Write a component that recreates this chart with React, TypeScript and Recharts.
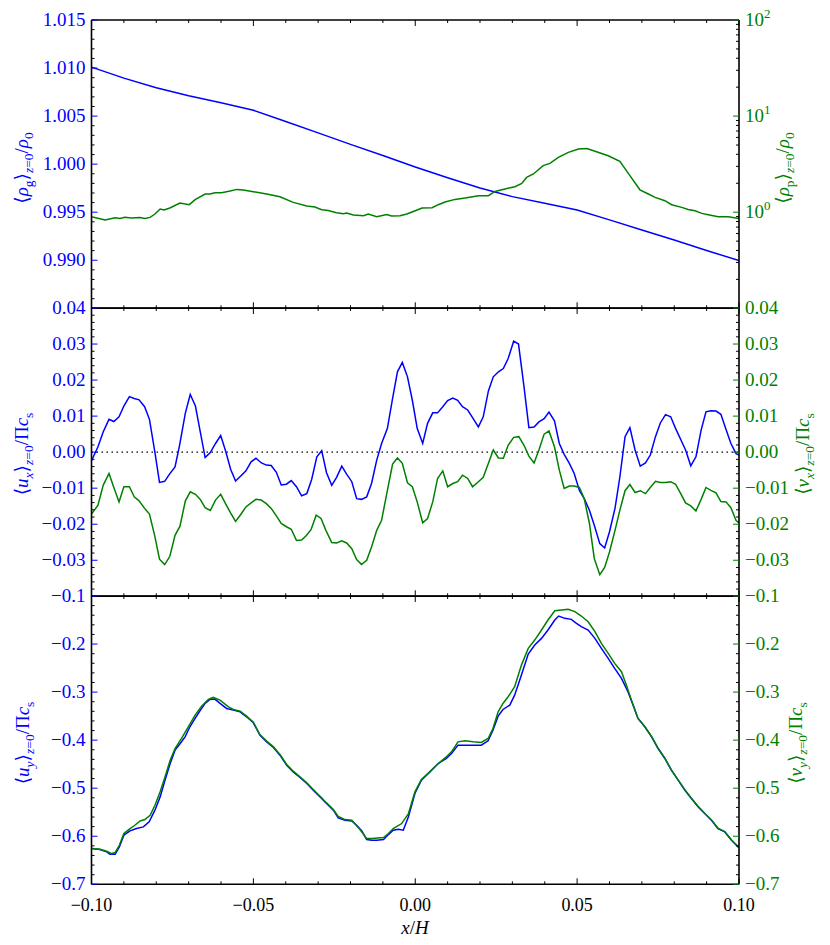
import { LineChart, Line, XAxis, YAxis, ReferenceLine } from 'recharts';

const BLUE = '#0000ff';
const GREEN = '#008000';
const FONT = '"Liberation Serif", "DejaVu Serif", serif';
const FS = 19;

// plot frames (page px)
const PLOT_H = 288.3;
const PANEL_TOPS = [19.5, 307.8, 596.1];

type Pt = [number, number];

// ---- tick labels ----
const xMajor = [-0.1, -0.05, 0, 0.05, 0.1];
const rhoGasMajor = [0.985, 0.99, 0.995, 1.0, 1.005, 1.01, 1.015];
const rhoParMajor = [0.1, 1, 10, 100];
const uxMajor = [-0.04, -0.03, -0.02, -0.01, 0, 0.01, 0.02, 0.03, 0.04];
const uyMajor = [-0.7, -0.6, -0.5, -0.4, -0.3, -0.2, -0.1];

// ---- top panel: gas density (left, linear) and particle density (right, log) ----
const rhoGas: Pt[] = [
  [-0.1, 1.0101], [-0.09, 1.00895], [-0.08, 1.00796], [-0.07, 1.00712], [-0.06, 1.00638],
  [-0.05, 1.00561], [-0.04, 1.00443], [-0.03, 1.00325], [-0.02, 1.00206], [-0.01, 1.0009],
  [0.0, 0.9997], [0.01, 0.99858], [0.02, 0.99752], [0.03, 0.99662], [0.04, 0.99592],
  [0.05, 0.99523], [0.06, 0.9942], [0.07, 0.99314], [0.08, 0.9921], [0.09, 0.99102],
  [0.1, 0.98996],
];

const rhoPar: Pt[] = [
  [-0.1, 0.897], [-0.0958, 0.83], [-0.0927, 0.877], [-0.0912, 0.862], [-0.0897, 0.884],
  [-0.0876, 0.87], [-0.085, 0.883], [-0.0835, 0.862], [-0.0819, 0.883], [-0.0804, 0.957],
  [-0.0788, 1.079], [-0.0776, 1.054], [-0.0758, 1.106], [-0.0727, 1.247], [-0.0698, 1.197],
  [-0.068, 1.349], [-0.0649, 1.546], [-0.0634, 1.546], [-0.0619, 1.596], [-0.0598, 1.596],
  [-0.0572, 1.663], [-0.0551, 1.727], [-0.0531, 1.7], [-0.05, 1.634], [-0.0459, 1.546],
  [-0.0418, 1.449], [-0.0377, 1.265], [-0.0335, 1.161], [-0.031, 1.133], [-0.0289, 1.062],
  [-0.0269, 1.04], [-0.0243, 0.988], [-0.0222, 0.965], [-0.0212, 0.981], [-0.0191, 0.935],
  [-0.016, 0.92], [-0.0145, 0.957], [-0.0119, 0.897], [-0.0088, 0.948], [-0.0073, 0.913],
  [-0.0047, 0.92], [-0.0026, 0.957], [0.0, 1.037], [0.0021, 1.106], [0.0052, 1.115],
  [0.0071, 1.197], [0.0092, 1.277], [0.0123, 1.359], [0.0154, 1.406], [0.0195, 1.486],
  [0.0226, 1.486], [0.0246, 1.645], [0.0277, 1.743], [0.0308, 1.841], [0.0329, 1.994],
  [0.0344, 2.3], [0.0365, 2.5], [0.0395, 3.05], [0.0416, 3.22], [0.0442, 3.72],
  [0.0473, 4.19], [0.0504, 4.55], [0.053, 4.61], [0.056, 4.26], [0.0596, 3.87],
  [0.0632, 3.38], [0.0663, 2.4], [0.0694, 1.71], [0.072, 1.546], [0.0741, 1.426],
  [0.0771, 1.318], [0.0792, 1.197], [0.0823, 1.122], [0.0843, 1.069], [0.0864, 1.037],
  [0.0885, 0.972], [0.0905, 0.941], [0.0936, 0.897], [0.0967, 0.897], [0.1, 0.862],
];

// ---- middle panel: u_x (gas, left) and v_x (particles, right) ----
const uxGas: Pt[] = [
  [-0.1, -0.0024], [-0.098, 0.0015], [-0.0964, 0.0056], [-0.0946, 0.0091], [-0.0931, 0.0085],
  [-0.0915, 0.0098], [-0.09, 0.0128], [-0.0883, 0.0154], [-0.0868, 0.0149], [-0.0853, 0.0145],
  [-0.0836, 0.0126], [-0.0821, 0.0091], [-0.0805, 0.0004], [-0.079, -0.0084], [-0.0774, -0.0081],
  [-0.0759, -0.0061], [-0.0742, -0.0041], [-0.0728, 0.0019], [-0.071, 0.0109], [-0.0695, 0.016],
  [-0.0679, 0.0128], [-0.0664, 0.0056], [-0.0649, -0.0015], [-0.0633, -0.0001], [-0.0617, 0.0024],
  [-0.0601, 0.0046], [-0.0586, 0.0004], [-0.057, -0.0048], [-0.0555, -0.008], [-0.0539, -0.0066],
  [-0.0523, -0.0052], [-0.0507, -0.0027], [-0.0492, -0.0017], [-0.0475, -0.003], [-0.046, -0.0036],
  [-0.0445, -0.0037], [-0.0429, -0.0056], [-0.0414, -0.0091], [-0.0398, -0.0089], [-0.0383, -0.0079],
  [-0.0367, -0.0096], [-0.0351, -0.0121], [-0.0335, -0.0115], [-0.032, -0.0076], [-0.0304, -0.0013],
  [-0.0289, 0.0004], [-0.0274, -0.0057], [-0.0258, -0.0092], [-0.0243, -0.007], [-0.0227, -0.0039],
  [-0.0212, -0.0061], [-0.0196, -0.0082], [-0.0181, -0.0129], [-0.0166, -0.0131], [-0.015, -0.0124],
  [-0.0135, -0.0087], [-0.0119, -0.0022], [-0.0104, 0.0024], [-0.0086, 0.0066], [-0.007, 0.0149],
  [-0.0055, 0.0223], [-0.004, 0.0249], [-0.0024, 0.0209], [-0.0009, 0.0144], [0.0006, 0.0066],
  [0.0023, 0.0024], [0.0038, 0.008], [0.0054, 0.0109], [0.0069, 0.0109], [0.0085, 0.0126],
  [0.01, 0.0143], [0.0116, 0.015], [0.0131, 0.0144], [0.0146, 0.0126], [0.0162, 0.0117],
  [0.0177, 0.0096], [0.0195, 0.007], [0.021, 0.0098], [0.0226, 0.017], [0.0241, 0.0209],
  [0.0257, 0.0223], [0.0272, 0.0232], [0.0287, 0.026], [0.0304, 0.0308], [0.0319, 0.03],
  [0.0336, 0.0181], [0.0351, 0.0068], [0.0367, 0.007], [0.0382, 0.0084], [0.0398, 0.0093],
  [0.0413, 0.0111], [0.043, 0.0087], [0.0445, 0.0024], [0.046, -0.0006], [0.0476, -0.0031],
  [0.0491, -0.0059], [0.0507, -0.0106], [0.0522, -0.0129], [0.0538, -0.0161], [0.0553, -0.0203],
  [0.057, -0.0254], [0.0585, -0.0266], [0.06, -0.0221], [0.0617, -0.0156], [0.0632, -0.0069],
  [0.0648, 0.0043], [0.0663, 0.0068], [0.0679, 0.0006], [0.0695, -0.0039], [0.0711, -0.003],
  [0.0726, -0.0008], [0.0742, 0.0043], [0.0757, 0.0081], [0.0773, 0.0104], [0.0789, 0.0098],
  [0.0804, 0.0066], [0.082, 0.0035], [0.0835, 0.0006], [0.0851, -0.0038], [0.0867, -0.0013],
  [0.0883, 0.0061], [0.0898, 0.0112], [0.0913, 0.0115], [0.0929, 0.0114], [0.0944, 0.0105],
  [0.096, 0.0063], [0.0975, 0.0024], [0.0991, -0.0004], [0.1, -0.0008],
];

const vxPar: Pt[] = [
  [-0.1, -0.0172], [-0.098, -0.0147], [-0.0964, -0.0092], [-0.0946, -0.0059], [-0.0931, -0.0098],
  [-0.0915, -0.0138], [-0.09, -0.0096], [-0.0883, -0.0096], [-0.0868, -0.0124], [-0.0853, -0.0135],
  [-0.0836, -0.0156], [-0.0821, -0.0172], [-0.0805, -0.0231], [-0.079, -0.0297], [-0.0774, -0.0312],
  [-0.0758, -0.0289], [-0.0742, -0.0231], [-0.0727, -0.0206], [-0.071, -0.0135], [-0.0695, -0.011],
  [-0.0679, -0.0117], [-0.0664, -0.0131], [-0.0649, -0.0154], [-0.0633, -0.0162], [-0.0617, -0.0133],
  [-0.0601, -0.0117], [-0.0586, -0.0143], [-0.057, -0.0169], [-0.0555, -0.0192], [-0.0539, -0.0173],
  [-0.0523, -0.0152], [-0.0507, -0.0141], [-0.0492, -0.0131], [-0.0476, -0.0133], [-0.046, -0.0143],
  [-0.0445, -0.0156], [-0.0429, -0.0177], [-0.0414, -0.0198], [-0.0398, -0.0207], [-0.0383, -0.0214],
  [-0.0367, -0.0245], [-0.0351, -0.0244], [-0.0337, -0.0232], [-0.0322, -0.0215], [-0.0306, -0.0175],
  [-0.0291, -0.0184], [-0.0276, -0.0217], [-0.0258, -0.0251], [-0.0243, -0.0252], [-0.0227, -0.0246],
  [-0.0212, -0.0252], [-0.0196, -0.0268], [-0.0181, -0.0298], [-0.0166, -0.0312], [-0.015, -0.03],
  [-0.0135, -0.0263], [-0.0119, -0.0217], [-0.0104, -0.0189], [-0.0086, -0.0106], [-0.007, -0.0033],
  [-0.0055, -0.0016], [-0.004, -0.0031], [-0.0024, -0.0085], [-0.0009, -0.0096], [0.0006, -0.0138],
  [0.0023, -0.0196], [0.0038, -0.0184], [0.0054, -0.0138], [0.0069, -0.0073], [0.0085, -0.0052],
  [0.01, -0.0096], [0.0116, -0.0087], [0.0131, -0.0082], [0.0146, -0.0064], [0.0162, -0.0073],
  [0.0177, -0.0096], [0.0195, -0.0082], [0.021, -0.007], [0.0226, -0.0031], [0.0241, 0.0006],
  [0.0257, -0.0016], [0.0272, -0.0017], [0.0287, 0.0019], [0.0304, 0.0041], [0.032, 0.0043],
  [0.0336, 0.0019], [0.0351, -0.0011], [0.0367, -0.003], [0.0382, 0.0006], [0.0398, 0.005],
  [0.0413, 0.0059], [0.043, 0.0015], [0.0445, -0.005], [0.046, -0.0101], [0.0476, -0.0094],
  [0.0491, -0.0094], [0.0507, -0.0098], [0.0522, -0.0129], [0.0538, -0.0198], [0.0553, -0.0295],
  [0.057, -0.034], [0.0585, -0.032], [0.06, -0.0277], [0.0617, -0.0217], [0.0632, -0.0161],
  [0.0648, -0.0107], [0.0663, -0.009], [0.0679, -0.0112], [0.0695, -0.0107], [0.0711, -0.0115],
  [0.0726, -0.0098], [0.0742, -0.0081], [0.0757, -0.0084], [0.0773, -0.0084], [0.0789, -0.0082],
  [0.0804, -0.0089], [0.082, -0.0115], [0.0835, -0.0141], [0.0851, -0.0149], [0.0867, -0.0163],
  [0.0883, -0.0131], [0.0898, -0.0098], [0.0913, -0.0106], [0.0929, -0.0113], [0.0944, -0.0137],
  [0.096, -0.0138], [0.0975, -0.0154], [0.0991, -0.019], [0.1, -0.0196],
];

// ---- bottom panel: u_y (gas, left) and v_y (particles, right) ----
const uyGas: Pt[] = [
  [-0.1, -0.6257], [-0.0974, -0.6278], [-0.0953, -0.6326], [-0.0943, -0.6375], [-0.0927, -0.6375],
  [-0.0914, -0.6222], [-0.09, -0.5979], [-0.0881, -0.5889], [-0.0861, -0.584], [-0.084, -0.5806],
  [-0.0822, -0.5701], [-0.0804, -0.5458], [-0.0788, -0.5181], [-0.0773, -0.4833], [-0.0757, -0.4486],
  [-0.0742, -0.4208], [-0.0726, -0.4069], [-0.0711, -0.3931], [-0.0696, -0.3722], [-0.068, -0.3549],
  [-0.0665, -0.3389], [-0.0649, -0.3236], [-0.0634, -0.3153], [-0.0619, -0.3146], [-0.0603, -0.3236],
  [-0.0583, -0.334], [-0.0562, -0.3375], [-0.0541, -0.341], [-0.0521, -0.3514], [-0.05, -0.3639],
  [-0.048, -0.3896], [-0.0459, -0.4035], [-0.0438, -0.4153], [-0.0418, -0.4313], [-0.0397, -0.4521],
  [-0.0377, -0.466], [-0.0356, -0.4778], [-0.0335, -0.4903], [-0.0315, -0.5042], [-0.0294, -0.5181],
  [-0.0274, -0.5319], [-0.0253, -0.5458], [-0.0238, -0.5618], [-0.0217, -0.5667], [-0.0196, -0.5681],
  [-0.0181, -0.5771], [-0.0165, -0.5889], [-0.015, -0.6069], [-0.0134, -0.6083], [-0.0119, -0.6083],
  [-0.0098, -0.6069], [-0.0083, -0.5965], [-0.0068, -0.5875], [-0.0052, -0.5854], [-0.0037, -0.5875],
  [-0.0021, -0.5597], [-0.0001, -0.5111], [0.0019, -0.4833], [0.0045, -0.466], [0.0071, -0.4486],
  [0.0096, -0.4382], [0.0112, -0.4278], [0.0132, -0.4104], [0.0153, -0.4104], [0.0179, -0.4104],
  [0.0204, -0.4104], [0.0225, -0.4014], [0.024, -0.3792], [0.0256, -0.35], [0.0271, -0.3361],
  [0.0292, -0.3271], [0.0307, -0.3063], [0.0328, -0.2646], [0.0349, -0.2208], [0.0369, -0.2021],
  [0.039, -0.1882], [0.041, -0.1708], [0.0431, -0.15], [0.0443, -0.1417], [0.0462, -0.1465],
  [0.0482, -0.1486], [0.0498, -0.1569], [0.0513, -0.1639], [0.0534, -0.1708], [0.0555, -0.1882],
  [0.0575, -0.209], [0.0596, -0.2299], [0.0616, -0.2507], [0.0637, -0.2715], [0.0657, -0.2993],
  [0.0673, -0.3271], [0.0688, -0.3549], [0.0709, -0.3722], [0.073, -0.3931], [0.075, -0.4174],
  [0.0771, -0.4382], [0.0791, -0.4625], [0.0812, -0.4833], [0.0833, -0.5042], [0.0853, -0.5215],
  [0.0874, -0.5389], [0.0894, -0.5528], [0.0915, -0.5667], [0.0935, -0.584], [0.0956, -0.591],
  [0.0977, -0.6083], [0.0997, -0.6222], [0.1, -0.6236],
];

const vyPar: Pt[] = [
  [-0.1, -0.6257], [-0.0974, -0.6271], [-0.0953, -0.6313], [-0.0938, -0.6361], [-0.0927, -0.634],
  [-0.0914, -0.6188], [-0.09, -0.5944], [-0.0881, -0.584], [-0.0866, -0.5771], [-0.085, -0.5681],
  [-0.0835, -0.5653], [-0.0819, -0.5563], [-0.0804, -0.5354], [-0.0788, -0.5076], [-0.0773, -0.4764],
  [-0.0757, -0.4417], [-0.0742, -0.4174], [-0.0722, -0.3965], [-0.0701, -0.3722], [-0.068, -0.3479],
  [-0.066, -0.3292], [-0.0639, -0.3153], [-0.0624, -0.3111], [-0.0603, -0.3167], [-0.0577, -0.3306],
  [-0.0562, -0.3361], [-0.0541, -0.3396], [-0.0521, -0.35], [-0.05, -0.3625], [-0.048, -0.3882],
  [-0.0459, -0.4021], [-0.0438, -0.4139], [-0.0418, -0.4299], [-0.0397, -0.4507], [-0.0377, -0.4646],
  [-0.0356, -0.4764], [-0.0335, -0.4889], [-0.0315, -0.5028], [-0.0294, -0.5167], [-0.0274, -0.5306],
  [-0.0253, -0.5444], [-0.0238, -0.559], [-0.0217, -0.5653], [-0.0196, -0.5667], [-0.0171, -0.5861],
  [-0.015, -0.6049], [-0.0134, -0.6049], [-0.0098, -0.6028], [-0.0083, -0.5944], [-0.0068, -0.584],
  [-0.0042, -0.5736], [-0.0021, -0.5528], [-0.0001, -0.5076], [0.0019, -0.4819], [0.0045, -0.466],
  [0.0071, -0.4486], [0.0096, -0.4347], [0.0112, -0.4243], [0.0132, -0.4035], [0.0153, -0.4014],
  [0.0179, -0.4035], [0.0204, -0.4049], [0.0225, -0.3965], [0.024, -0.3757], [0.0256, -0.341],
  [0.0271, -0.3236], [0.0287, -0.3097], [0.0307, -0.2889], [0.0328, -0.2438], [0.0349, -0.209],
  [0.0369, -0.1917], [0.039, -0.1708], [0.041, -0.15], [0.0431, -0.1306], [0.0452, -0.1292],
  [0.0472, -0.1278], [0.0493, -0.1326], [0.0513, -0.1417], [0.0534, -0.1535], [0.0555, -0.1743],
  [0.0575, -0.1986], [0.0596, -0.2194], [0.0616, -0.2403], [0.0637, -0.2576], [0.0652, -0.2854],
  [0.0673, -0.3271], [0.0688, -0.3549], [0.0709, -0.3715], [0.073, -0.3924], [0.075, -0.4167],
  [0.0771, -0.4375], [0.0791, -0.4618], [0.0812, -0.4826], [0.0833, -0.5035], [0.0853, -0.5208],
  [0.0874, -0.5382], [0.0894, -0.5521], [0.0915, -0.566], [0.0935, -0.5833], [0.0956, -0.5903],
  [0.0977, -0.6076], [0.0997, -0.6215], [0.1, -0.6229],
];

// ---- helpers ----
function steps(lo: number, hi: number, step: number) {
  const out: number[] = [];
  const n = Math.round((hi - lo) / step);
  for (let i = 0; i <= n; i++) out.push(+(lo + i * step).toFixed(6));
  return out;
}
const logTicks = [0.1, 1, 10]
  .flatMap((d) => [1, 2, 3, 4, 5, 6, 7, 8, 9].map((k) => +(k * d).toPrecision(3)))
  .concat([100]);

const isIn = (v: number, list: number[]) => list.some((m) => Math.abs(m - v) < 1e-9 * Math.max(1, Math.abs(m)));
const minus = (s: string) => s.replace('-', '\u2212');

const fmtRho = (v: number) => v.toFixed(3);
const fmtU = (v: number) => minus(v.toFixed(2));
const fmtUy = (v: number) => minus(v.toFixed(1));
const fmtLog = (v: number) => (
  <>
    10<tspan dy={-8} fontSize={13}>{Math.round(Math.log10(v))}</tspan>
  </>
);

const makeYTick =
  (side: 'left' | 'right', majors: number[], hidden: number[], fmt: (v: number) => any, color: string) =>
  (props: any) => {
    const { x, y, payload } = props;
    const v = payload.value;
    const major = isIn(v, majors);
    const dir = side === 'left' ? 1 : -1;
    const len = major ? 6 : 3;
    return (
      <g>
        <line x1={x} x2={x + dir * len} y1={y} y2={y} stroke={major ? color : '#000'} strokeWidth={1} />
        {major && !isIn(v, hidden) && (
          <text
            x={x - dir * 6}
            y={y}
            dy="0.3em"
            textAnchor={side === 'left' ? 'end' : 'start'}
            fill={color}
            fontSize={FS}
            fontFamily={FONT}
          >
            {fmt(v)}
          </text>
        )}
      </g>
    );
  };

const makeXTick = (edge: 'top' | 'bottom', labels: boolean) => (props: any) => {
  const { x, y, payload } = props;
  const v = payload.value;
  const major = isIn(v, xMajor);
  const dir = edge === 'bottom' ? -1 : 1;
  return (
    <g>
      <line x1={x} x2={x} y1={y} y2={y + dir * (major ? 6 : 3)} stroke="#000" strokeWidth={1} />
      {labels && major && (
        <text x={x} y={y + 26.5} textAnchor="middle" fill="#000" fontSize={18} fontFamily={FONT}>
          {fmtU(v)}
        </text>
      )}
    </g>
  );
};

type Part = [string, 'n' | 'i' | 's' | 'si'];

function AxisTitle({ x, y, color, parts }: { x: number; y: number; color: string; parts: Part[] }) {
  let shift = 0;
  return (
    <text
      x={x}
      y={y}
      transform={`rotate(-90 ${x} ${y})`}
      textAnchor="middle"
      fill={color}
      fontFamily={FONT}
      fontSize={FS}
    >
      {parts.map(([t, k], i) => {
        const sub = k === 's' || k === 'si';
        const target = sub ? 5 : 0;
        const dy = target - shift;
        shift = target;
        return (
          <tspan key={i} dy={dy} fontStyle={k === 'i' || k === 'si' ? 'italic' : 'normal'} fontSize={sub ? 13.5 : FS}>
            {t}
          </tspan>
        );
      })}
    </text>
  );
}

const frame = { stroke: '#000', strokeWidth: 1.6 };
const xTicks = steps(-0.1, 0.1, 0.01);

interface PanelProps {
  top: number;
  blue: Pt[];
  green: Pt[];
  leftDomain: [number, number];
  leftTicks: number[];
  leftMajor: number[];
  leftFmt: (v: number) => any;
  rightDomain: [number, number];
  rightTicks: number[];
  rightMajor: number[];
  rightFmt: (v: number) => any;
  rightLog?: boolean;
  hidden: number[];
  showX?: boolean;
  zero?: boolean;
}

function Panel(p: PanelProps) {
  const mb = p.showX ? 60 : 10;
  const h = PLOT_H + 30 + mb;
  const blueData = p.blue.map(([x, y]) => ({ x, y }));
  const greenData = p.green.map(([x, y]) => ({ x, y }));
  return (
    <div style={{ position: 'absolute', left: 0, top: p.top - 20 }}>
      <LineChart width={830} height={h} margin={{ top: 10, right: 0, bottom: mb, left: 0 }}>
        <XAxis
          xAxisId="b"
          dataKey="x"
          type="number"
          domain={[-0.1, 0.1]}
          allowDataOverflow
          ticks={xTicks}
          interval={0}
          height={10}
          tickSize={0}
          tickMargin={0}
          tickLine={false}
          axisLine={frame}
          tick={makeXTick('bottom', !!p.showX)}
        />
        <XAxis
          xAxisId="t"
          orientation="top"
          dataKey="x"
          type="number"
          domain={[-0.1, 0.1]}
          allowDataOverflow
          ticks={xTicks}
          interval={0}
          height={10}
          tickSize={0}
          tickMargin={0}
          tickLine={false}
          axisLine={frame}
          tick={makeXTick('top', false)}
        />
        <YAxis
          yAxisId="l"
          orientation="left"
          width={91.5}
          type="number"
          domain={p.leftDomain}
          allowDataOverflow
          ticks={p.leftTicks}
          interval={0}
          tickSize={0}
          tickMargin={0}
          tickLine={false}
          axisLine={frame}
          tick={makeYTick('left', p.leftMajor, p.hidden, p.leftFmt, BLUE)}
        />
        <YAxis
          yAxisId="r"
          orientation="right"
          width={91}
          type="number"
          scale={p.rightLog ? 'log' : 'linear'}
          domain={p.rightDomain}
          allowDataOverflow
          ticks={p.rightTicks}
          interval={0}
          tickSize={0}
          tickMargin={0}
          tickLine={false}
          axisLine={frame}
          tick={makeYTick('right', p.rightMajor, p.hidden, p.rightFmt, GREEN)}
        />
        {p.zero && (
          <ReferenceLine xAxisId="b" yAxisId="l" y={0} stroke="#000" strokeWidth={1.3} strokeDasharray="1.5 3.5" />
        )}
        <Line
          data={blueData}
          xAxisId="b"
          yAxisId="l"
          dataKey="y"
          type="linear"
          stroke={BLUE}
          strokeWidth={1.5}
          dot={false}
          activeDot={false}
          isAnimationActive={false}
        />
        <Line
          data={greenData}
          xAxisId="t"
          yAxisId="r"
          dataKey="y"
          type="linear"
          stroke={GREEN}
          strokeWidth={1.5}
          dot={false}
          activeDot={false}
          isAnimationActive={false}
        />
      </LineChart>
    </div>
  );
}

export default function App() {
  const rhoTicks = steps(0.985, 1.015, 0.001);
  const uxTicks = steps(-0.04, 0.04, 0.002);
  const uyTicks = steps(-0.7, -0.1, 0.02);
  return (
    <div style={{ position: 'absolute', left: 0, top: 0, width: 830, height: 945, background: '#fff' }}>
      <Panel
        top={PANEL_TOPS[0]}
        blue={rhoGas}
        green={rhoPar}
        leftDomain={[0.985, 1.015]}
        leftTicks={rhoTicks}
        leftMajor={rhoGasMajor}
        leftFmt={fmtRho}
        rightDomain={[0.1, 100]}
        rightTicks={logTicks}
        rightMajor={rhoParMajor}
        rightFmt={fmtLog}
        rightLog
        hidden={[0.985, 0.1]}
      />
      <Panel
        top={PANEL_TOPS[1]}
        blue={uxGas}
        green={vxPar}
        leftDomain={[-0.04, 0.04]}
        leftTicks={uxTicks}
        leftMajor={uxMajor}
        leftFmt={fmtU}
        rightDomain={[-0.04, 0.04]}
        rightTicks={uxTicks}
        rightMajor={uxMajor}
        rightFmt={fmtU}
        hidden={[-0.04]}
        zero
      />
      <Panel
        top={PANEL_TOPS[2]}
        blue={uyGas}
        green={vyPar}
        leftDomain={[-0.7, -0.1]}
        leftTicks={uyTicks}
        leftMajor={uyMajor}
        leftFmt={fmtUy}
        rightDomain={[-0.7, -0.1]}
        rightTicks={uyTicks}
        rightMajor={uyMajor}
        rightFmt={fmtUy}
        hidden={[]}
        showX
      />
      <svg width={830} height={945} style={{ position: 'absolute', left: 0, top: 0, pointerEvents: 'none' }}>
        <AxisTitle
          x={28}
          y={168}
          color={BLUE}
          parts={[['⟨', 'n'], ['ρ', 'i'], ['g', 's'], ['⟩', 'n'], ['z', 'si'], ['=0', 's'], ['/', 'n'], ['ρ', 'i'], ['0', 's']]}
        />
        <AxisTitle
          x={789}
          y={168}
          color={GREEN}
          parts={[['⟨', 'n'], ['ρ', 'i'], ['p', 's'], ['⟩', 'n'], ['z', 'si'], ['=0', 's'], ['/', 'n'], ['ρ', 'i'], ['0', 's']]}
        />
        <AxisTitle
          x={28}
          y={454}
          color={BLUE}
          parts={[['⟨', 'n'], ['u', 'i'], ['x', 'si'], ['⟩', 'n'], ['z', 'si'], ['=0', 's'], ['/Π', 'n'], ['c', 'i'], ['s', 's']]}
        />
        <AxisTitle
          x={809}
          y={454}
          color={GREEN}
          parts={[['⟨', 'n'], ['v', 'i'], ['x', 'si'], ['⟩', 'n'], ['z', 'si'], ['=0', 's'], ['/Π', 'n'], ['c', 'i'], ['s', 's']]}
        />
        <AxisTitle
          x={29}
          y={743}
          color={BLUE}
          parts={[['⟨', 'n'], ['u', 'i'], ['y', 'si'], ['⟩', 'n'], ['z', 'si'], ['=0', 's'], ['/Π', 'n'], ['c', 'i'], ['s', 's']]}
        />
        <AxisTitle
          x={802}
          y={743}
          color={GREEN}
          parts={[['⟨', 'n'], ['v', 'i'], ['y', 'si'], ['⟩', 'n'], ['z', 'si'], ['=0', 's'], ['/Π', 'n'], ['c', 'i'], ['s', 's']]}
        />
        <text x={415} y={934} textAnchor="middle" fontFamily={FONT} fontSize={FS} fill="#000">
          <tspan fontStyle="italic">x</tspan>/<tspan fontStyle="italic">H</tspan>
        </text>
      </svg>
    </div>
  );
}
